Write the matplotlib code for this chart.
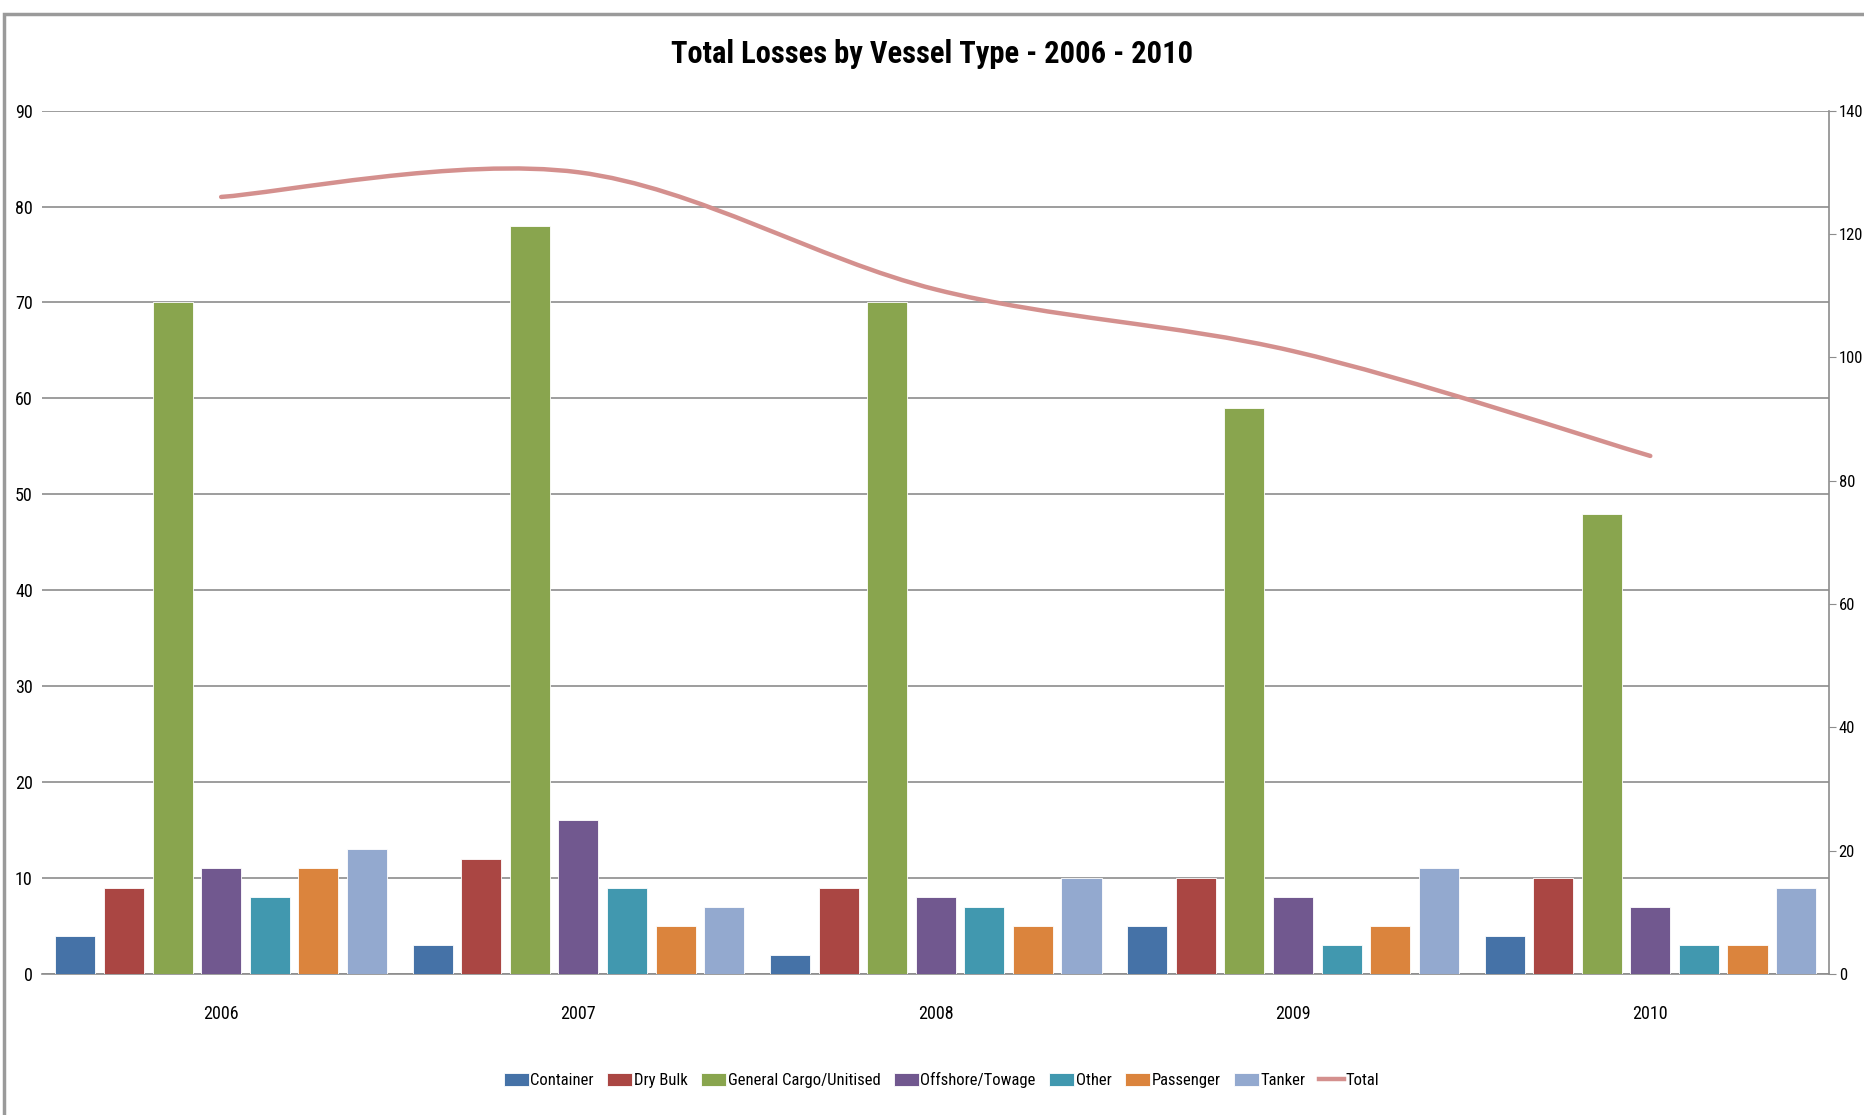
import matplotlib
matplotlib.use("Agg")
import matplotlib.pyplot as plt
import numpy as np
from matplotlib.path import Path
from matplotlib.patches import PathPatch, Rectangle

plt.rcParams['font.family'] = ['Liberation Sans Narrow', 'Roboto Condensed', 'DejaVu Sans']
plt.rcParams['font.stretch'] = 'condensed'

YEARS = ["2006", "2007", "2008", "2009", "2010"]
VESSEL_TYPES = ["Container", "Dry Bulk", "General Cargo/Unitised", "Offshore/Towage",
                "Other", "Passenger", "Tanker"]
CONTAINER = [4, 3, 2, 5, 4]
DRY_BULK = [9, 12, 9, 10, 10]
GENERAL_CARGO = [70, 78, 70, 59, 48]
OFFSHORE = [11, 16, 8, 8, 7]
OTHER = [8, 9, 7, 3, 3]
PASSENGER = [11, 5, 5, 5, 3]
TANKER = [13, 7, 10, 11, 9]
TOTAL = [126, 130, 111, 101, 84]

COLORS = ["#4572A7", "#AA4643", "#89A54E", "#71588F", "#4198AF", "#DB843D", "#93A9CF"]
LINE_COLOR = "#D4908E"


def smooth_path(xs, ys, tension=1 / 6):
    # excel-style smoothed line: cubic bezier segments through the points
    pts = np.column_stack([xs, ys]).astype(float)
    verts = [pts[0]]
    codes = [Path.MOVETO]
    n = len(pts)
    for i in range(n - 1):
        p0 = pts[max(i - 1, 0)]
        p1 = pts[i]
        p2 = pts[i + 1]
        p3 = pts[min(i + 2, n - 1)]
        c1 = p1 + (p2 - p0) * tension
        c2 = p2 - (p3 - p1) * tension
        verts += [c1, c2, p2]
        codes += [Path.CURVE4] * 3
    return Path(verts, codes)


def main():
    fig = plt.figure(figsize=(18.64, 11.15), dpi=100)
    ax = fig.add_axes([0.0228, 0.1265, 0.9584, 0.7743])
    ax2 = ax.twinx()

    series = [CONTAINER, DRY_BULK, GENERAL_CARGO, OFFSHORE, OTHER, PASSENGER, TANKER]
    x = np.arange(len(YEARS))
    pitch = 0.136
    width = 0.112
    handles = []
    for i, (vals, name) in enumerate(zip(series, VESSEL_TYPES)):
        off = (i - 3) * pitch
        b = ax.bar(x + off, vals, width, color=COLORS[i], label=name, zorder=3,
                   edgecolor="white", linewidth=0.6)
        handles.append(b)

    ax.set_xlim(-0.5, 4.5)
    ax.set_ylim(0, 90)
    ax.set_yticks(range(0, 91, 10))
    ax.yaxis.grid(True, color="#8c8c8c", linewidth=1.2, zorder=0)
    ax.set_axisbelow(True)
    ax.set_xticks(x)
    ax.set_xticklabels(YEARS)
    ax.tick_params(axis="x", length=0, pad=22, labelsize=13)
    ax.tick_params(axis="y", length=0, pad=7, labelsize=13)
    for s in ["top", "left", "right"]:
        ax.spines[s].set_visible(False)
    ax.spines["bottom"].set_color("#8c8c8c")
    ax.spines["bottom"].set_linewidth(1.2)

    ax2.set_ylim(0, 140)
    ax2.set_yticks(range(0, 141, 20))
    ax2.tick_params(axis="y", length=5, color="#8c8c8c", pad=2, labelsize=12)
    for s in ["top", "left", "bottom"]:
        ax2.spines[s].set_visible(False)
    ax2.spines["right"].set_color("#8c8c8c")
    ax2.spines["right"].set_linewidth(1.2)

    patch = PathPatch(smooth_path(x, TOTAL), facecolor="none", edgecolor=LINE_COLOR,
                      linewidth=3.2, capstyle="round", zorder=5)
    ax2.add_patch(patch)
    line, = ax2.plot([], [], color=LINE_COLOR, linewidth=3.2, label="Total")
    handles.append(line)

    fig.text(0.5, 0.952, "Total Losses by Vessel Type - 2006 - 2010", ha="center", va="center",
             fontsize=22, fontweight="bold")

    fig.legend(handles=handles, labels=VESSEL_TYPES + ["Total"], loc="center",
               bbox_to_anchor=(0.505, 0.031), ncol=8, frameon=False, fontsize=12,
               handlelength=1.5, handleheight=0.8, handletextpad=0.1, columnspacing=0.8)

    fig.patches.append(Rectangle((0.0022, -0.01), 1.1, 1.0073 - 0.01, transform=fig.transFigure,
                                 facecolor="none", edgecolor="#9a9a9a", linewidth=2.5))

    fig.savefig("out.png", dpi=100)


if __name__ == "__main__":
    main()
